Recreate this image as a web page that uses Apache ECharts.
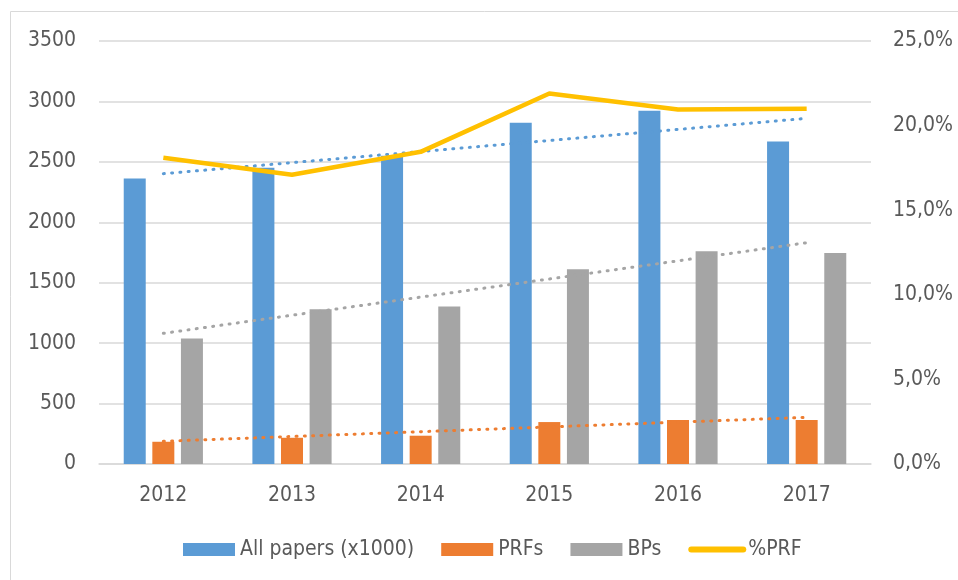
<!DOCTYPE html>
<html>
<head>
<meta charset="utf-8">
<script src="https://cdn.jsdelivr.net/npm/echarts@6/dist/echarts.min.js"></script>
<style>
  html, body { margin: 0; padding: 0; background: #fff; }
  #chart { width: 958px; height: 580px; }
</style>
</head>
<body>
<div id="chart"></div>
<script>
// values
var years = ['2012', '2013', '2014', '2015', '2016', '2017']
var allPapers = [2363, 2452, 2550, 2824, 2923, 2669]   // x1000
var prfs = [184, 217, 234, 347, 364, 364]
var bps = [1039, 1281, 1303, 1612, 1760, 1746]
var pctPrf = [18.1, 17.1, 18.45, 21.9, 20.95, 21.0]
// linear trendlines, only the end points
var trendAll = [2402, null, null, null, null, 2860]
var trendPrf = [188, null, null, null, null, 386]
var trendBp = [1081, null, null, null, null, 1831]

var FONT = "'Liberation Sans Narrow', 'DejaVu Sans Condensed', 'Roboto Condensed', 'Liberation Sans', sans-serif"
var TXT = '#595959'
var GRID = '#d9d9d9'

function pct(v) {
  return v.toFixed(1).replace('.', ',') + '%'
}

function trend(name, data, color) {
  return {
    name: name,
    type: 'line',
    data: data,
    connectNulls: true,
    symbol: 'none',
    silent: true,
    z: 3,
    lineStyle: { color: color, width: 3, type: [1, 7.3], cap: 'round' }
  }
}

var chart = echarts.init(document.getElementById('chart'))
var option = {
  animation: false,
  textStyle: { fontFamily: FONT },
  graphic: [{
    type: 'rect',
    shape: { x: 10.5, y: 11.5, width: 1000, height: 1000 },
    style: { fill: 'none', stroke: GRID, lineWidth: 1 },
    silent: true
  }],
  grid: { left: 99, right: 87, top: 41, bottom: 116 },
  legend: {
    left: 178,
    top: 534,
    itemWidth: 52,
    itemHeight: 13,
    itemGap: 27,
    textStyle: { color: TXT, fontSize: 21, fontFamily: FONT },
    data: [
      { name: 'All papers (x1000)', icon: 'rect' },
      { name: 'PRFs', icon: 'rect' },
      { name: 'BPs', icon: 'rect' },
      {
        name: '%PRF',
        lineStyle: { width: 6, cap: 'round' },
        itemStyle: { color: 'rgba(0,0,0,0)', borderColor: 'rgba(0,0,0,0)', borderWidth: 0 }
      }
    ]
  },
  xAxis: {
    type: 'category',
    data: years,
    axisTick: { show: false },
    axisLine: { lineStyle: { color: GRID, width: 1.5 } },
    axisLabel: { color: TXT, fontSize: 21, margin: 21, fontFamily: FONT }
  },
  yAxis: [{
    type: 'value',
    min: 0,
    max: 3500,
    interval: 500,
    axisLine: { show: false },
    axisTick: { show: false },
    splitLine: { lineStyle: { color: GRID, width: 1.5 } },
    axisLabel: {
      color: TXT, fontSize: 21, margin: 23, fontFamily: FONT,
      formatter: function (v) { return String(v) }
    }
  }, {
    type: 'value',
    min: 0,
    max: 25,
    interval: 5,
    axisLine: { show: false },
    axisTick: { show: false },
    splitLine: { show: false },
    axisLabel: { color: TXT, fontSize: 21, margin: 22, fontFamily: FONT, formatter: pct }
  }],
  series: [
    {
      name: 'All papers (x1000)',
      type: 'bar',
      data: allPapers,
      barWidth: 22,
      barGap: '30%',
      itemStyle: { color: '#5b9bd5' }
    },
    {
      name: 'PRFs',
      type: 'bar',
      data: prfs,
      barWidth: 22,
      barGap: '30%',
      itemStyle: { color: '#ed7d31' }
    },
    {
      name: 'BPs',
      type: 'bar',
      data: bps,
      barWidth: 22,
      barGap: '30%',
      itemStyle: { color: '#a5a5a5' }
    },
    trend('trend all', trendAll, '#5b9bd5'),
    trend('trend prf', trendPrf, '#ed7d31'),
    trend('trend bp', trendBp, '#a5a5a5'),
    {
      name: '%PRF',
      type: 'line',
      yAxisIndex: 1,
      data: pctPrf,
      symbol: 'none',
      z: 4,
      lineStyle: { color: '#ffc000', width: 4.5, join: 'round' },
      itemStyle: { color: '#ffc000' }
    }
  ]
}
chart.setOption(option)
</script>
</body>
</html>
